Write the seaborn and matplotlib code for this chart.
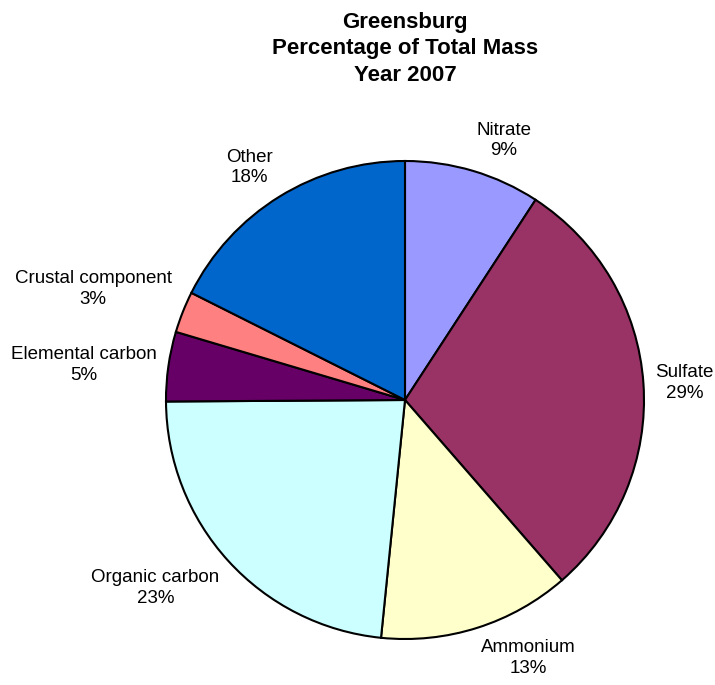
import numpy as np
import matplotlib
matplotlib.use("Agg")
import matplotlib.pyplot as plt
import seaborn as sns

# data
components = ['Nitrate', 'Sulfate', 'Ammonium', 'Organic carbon',
              'Elemental carbon', 'Crustal component', 'Other']
shares = [9.2, 29.4, 13.0, 23.3, 4.7, 2.8, 17.6]
colors = ['#9999FF', '#993366', '#FFFFCC', '#CCFFFF',
          '#660066', '#FF8080', '#0066CC']
title_lines = ['Greensburg', 'Percentage of Total Mass', 'Year 2007']

sns.set_theme(style='white')
plt.rcParams['font.family'] = ['Liberation Sans', 'DejaVu Sans']

fig = plt.figure(figsize=(7.15, 6.85), dpi=100)
# axes laid out so the pie sits centred at (405, 400) px with r = 239 px
ax = fig.add_axes([166 / 715, 46 / 685, 478 / 715, 478 / 685])

wedges, _ = ax.pie(shares, colors=sns.color_palette(colors), startangle=90,
                   counterclock=False,
                   wedgeprops=dict(edgecolor='black', linewidth=1.5))
ax.set_xlim(-1, 1)
ax.set_ylim(-1, 1)
ax.set_aspect('equal')
ax.axis('off')

# data labels just outside the rim, like the spreadsheet's "best fit"
total = sum(shares)
gap = 1.05
for w, name, val in zip(wedges, components, shares):
    ang = np.deg2rad((w.theta1 + w.theta2) / 2)
    x, y = gap * np.cos(ang), gap * np.sin(ang)
    ha = 'left' if x > 0.1 else ('right' if x < -0.1 else 'center')
    va = 'bottom' if y > 0.3 else ('top' if y < -0.3 else 'center')
    ax.text(x, y, f'{name}\n{val / total * 100:.0f}%', ha=ha, va=va,
            multialignment='center', fontsize=13.5, color='black',
            linespacing=1.3)

fig.text(405 / 715, 0.982, '\n'.join(title_lines), ha='center', va='top',
         fontsize=16, fontweight='bold', linespacing=1.32, color='black')

fig.savefig('out.png', dpi=100, facecolor='white')
